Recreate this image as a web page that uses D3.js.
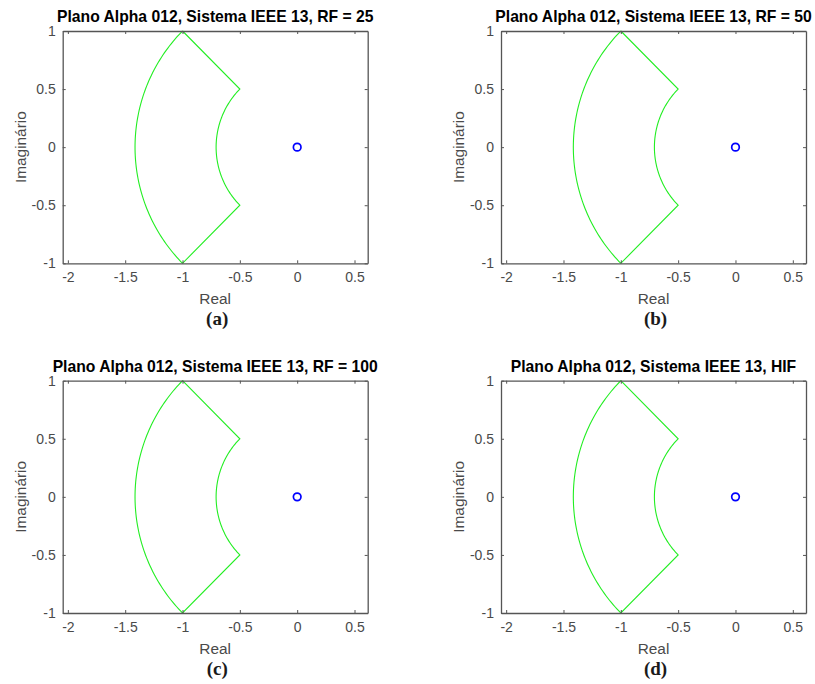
<!DOCTYPE html>
<html><head><meta charset="utf-8">
<script src="https://cdn.jsdelivr.net/npm/d3@7"></script>
<style>body{margin:0;background:#fff}svg{display:block}</style>
</head><body>
<script>
// ---- data ----
const panelTitles = [
  "Plano Alpha 012, Sistema IEEE 13, RF = 25",
  "Plano Alpha 012, Sistema IEEE 13, RF = 50",
  "Plano Alpha 012, Sistema IEEE 13, RF = 100",
  "Plano Alpha 012, Sistema IEEE 13, HIF"
];
const panelCaptions = ["(a)", "(b)", "(c)", "(d)"];
const xTicks = [-2, -1.5, -1, -0.5, 0, 0.5];
const yTicks = [-1, -0.5, 0, 0.5, 1];
const xDomain = [-2.045, 0.615];
const yDomain = [-1, 1];
// restraint region (alpha plane): annular sector
const regionInnerRadius = 0.7071;
const regionOuterRadius = 1.4142;
const regionAngles = [135, 225]; // degrees
// measured alpha ratio for each case (real, imag)
const pointsRe = [0, 0, 0, 0];
const pointsIm = [0, 0, 0, 0];

const W = 815, H = 684;
const svg = d3.select("body").append("svg").attr("width", W).attr("height", H);

const layout = [
  {x: 62.7, y: 31},
  {x: 501, y: 31},
  {x: 62.7, y: 380.7},
  {x: 501, y: 380.7}
];
const pw = 305, ph = 232.3;
const axisColor = "#555555";
const textColor = "#4a4a4a";
const sans = "Liberation Sans, Arial, sans-serif";

function regionPoints() {
  const pts = [];
  const n = 90;
  const a0 = regionAngles[0] * Math.PI / 180, a1 = regionAngles[1] * Math.PI / 180;
  for (let i = 0; i <= n; i++) {
    const a = a0 + (a1 - a0) * i / n;
    pts.push([regionOuterRadius * Math.cos(a), regionOuterRadius * Math.sin(a)]);
  }
  for (let i = 0; i <= n; i++) {
    const a = a1 - (a1 - a0) * i / n;
    pts.push([regionInnerRadius * Math.cos(a), regionInnerRadius * Math.sin(a)]);
  }
  pts.push(pts[0]);
  return pts;
}

layout.forEach((L, i) => {
  const g = svg.append("g").attr("transform", `translate(${L.x},${L.y})`);
  const x = d3.scaleLinear().domain(xDomain).range([0, pw]);
  const y = d3.scaleLinear().domain(yDomain).range([ph, 0]);

  // region
  g.append("path").datum(regionPoints())
    .attr("d", d3.line().x(d => x(d[0])).y(d => y(d[1])))
    .attr("fill", "none").attr("stroke", "#22ee22").attr("stroke-width", 1.1);

  // point
  g.append("circle").attr("cx", x(pointsRe[i])).attr("cy", y(pointsIm[i]))
    .attr("r", 3.8).attr("fill", "none").attr("stroke", "#0000ff").attr("stroke-width", 1.7);

  // axes
  const fmt = d => String(d);
  const ax = [
    g.append("g").attr("transform", `translate(0,${ph})`).call(d3.axisBottom(x).tickValues(xTicks).tickFormat(fmt).tickSizeInner(-3).tickSizeOuter(0).tickPadding(9)),
    g.append("g").call(d3.axisTop(x).tickValues(xTicks).tickFormat("").tickSizeInner(-3).tickSizeOuter(0)),
    g.append("g").call(d3.axisLeft(y).tickValues(yTicks).tickFormat(fmt).tickSizeInner(-3).tickSizeOuter(0).tickPadding(7)),
    g.append("g").attr("transform", `translate(${pw},0)`).call(d3.axisRight(y).tickValues(yTicks).tickFormat("").tickSizeInner(-3).tickSizeOuter(0))
  ];
  ax.forEach(a => {
    a.selectAll("path").attr("stroke", axisColor).attr("stroke-width", 1.3);
    a.selectAll("line").attr("stroke", axisColor);
    a.selectAll("text").attr("fill", textColor).attr("font-family", sans).attr("font-size", 14);
  });

  // title
  g.append("text").attr("x", pw / 2).attr("y", -9).attr("text-anchor", "middle")
    .attr("font-family", sans).attr("font-weight", "bold")
    .attr("font-size", 15.7).attr("fill", "#000").text(panelTitles[i]);

  // axis labels
  g.append("text").attr("x", pw / 2).attr("y", ph + 41).attr("text-anchor", "middle")
    .attr("font-family", sans).attr("font-size", 15.4)
    .attr("fill", textColor).text("Real");
  g.append("text").attr("transform", `translate(-37,${ph / 2}) rotate(-90)`).attr("text-anchor", "middle")
    .attr("font-family", sans).attr("font-size", 15.4)
    .attr("fill", textColor).text("Imaginário");

  // caption
  g.append("text").attr("x", pw / 2 + 2).attr("y", ph + 62).attr("text-anchor", "middle")
    .attr("font-family", "Liberation Serif, Times New Roman, serif").attr("font-weight", "bold")
    .attr("font-size", 19).attr("fill", "#1a1a1a").text(panelCaptions[i]);
});
</script>
</body></html>
